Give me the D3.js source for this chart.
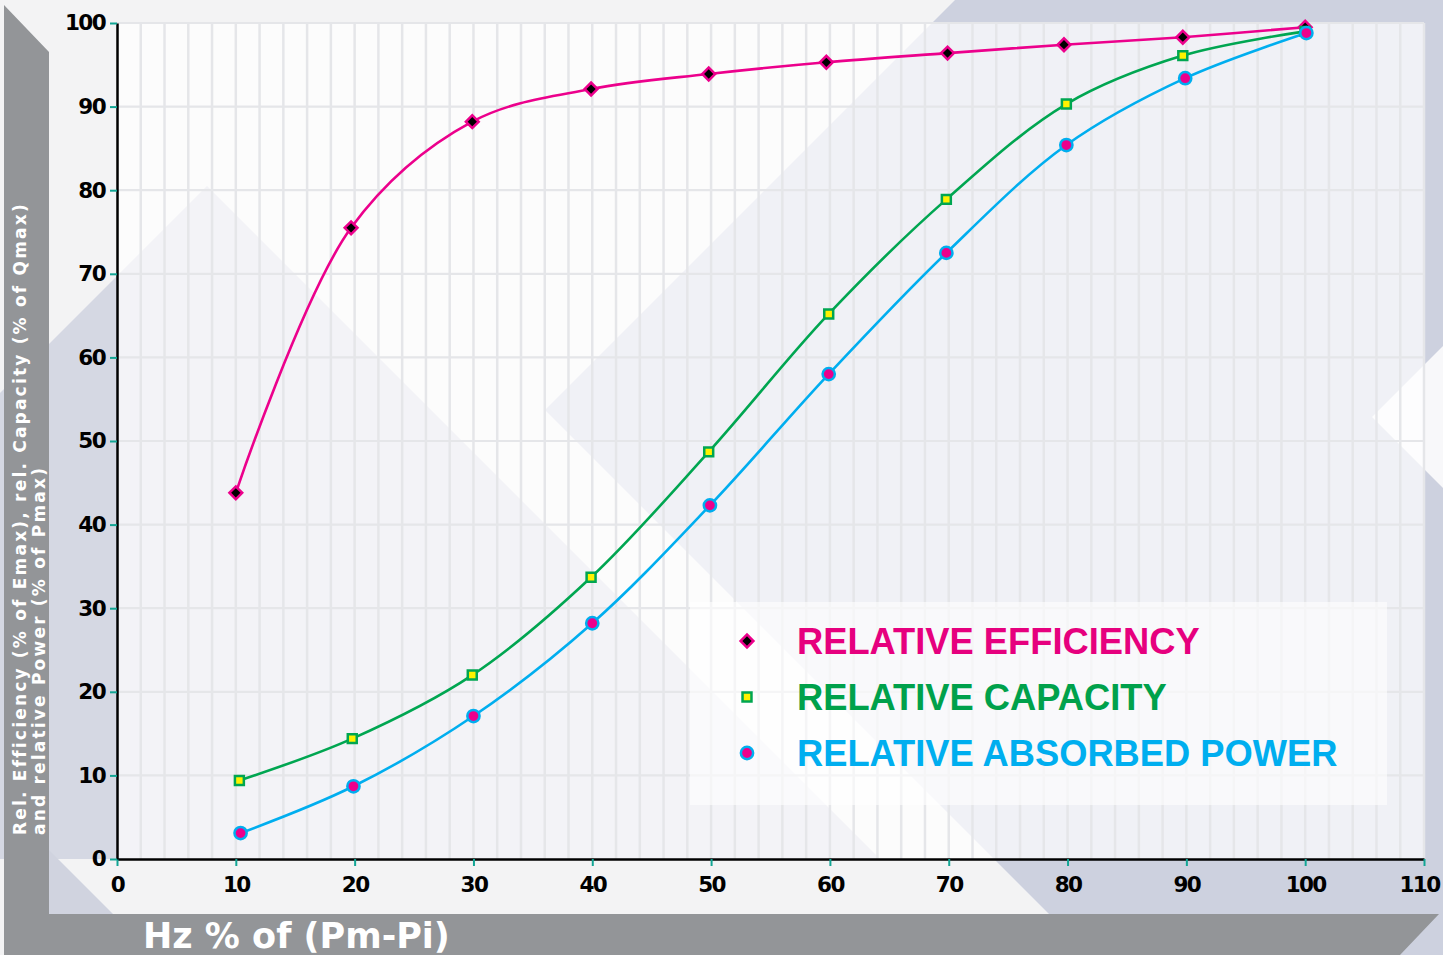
<!DOCTYPE html>
<html>
<head>
<meta charset="utf-8">
<script src="https://cdn.jsdelivr.net/npm/d3@7"></script>
<style>
body { margin: 0; background: #f3f3f4; }
svg { display: block; }
</style>
</head>
<body>
<div id="chart"></div>
<script>
// values
var hz_efficiency  = [10, 19.7, 29.9, 39.9, 49.8, 59.7, 69.9, 79.7, 89.7, 100];
var rel_efficiency = [43.8, 75.5, 88.2, 92.1, 93.9, 95.3, 96.4, 97.4, 98.3, 99.5];
var hz_capacity    = [10.3, 19.8, 29.9, 39.9, 49.8, 59.9, 69.8, 79.9, 89.7, 100];
var rel_capacity   = [9.4, 14.4, 22.0, 33.7, 48.7, 65.2, 78.9, 90.3, 96.1, 99.0];
var hz_power       = [10.4, 19.9, 30.0, 40.0, 49.9, 59.9, 69.8, 79.9, 89.9, 100.1];
var rel_power      = [3.1, 8.7, 17.1, 28.2, 42.3, 58.0, 72.5, 85.4, 93.4, 98.8];

var series_names = ["RELATIVE EFFICIENCY", "RELATIVE CAPACITY", "RELATIVE ABSORBED POWER"];
var x_ticks = [0, 10, 20, 30, 40, 50, 60, 70, 80, 90, 100, 110];
var y_ticks = [0, 10, 20, 30, 40, 50, 60, 70, 80, 90, 100];
var x_title = "Hz % of (Pm-Pi)";
var y_title = ["Rel. Efficiency (% of Emax), rel. Capacity (% of Qmax)", "and relative Power (% of Pmax)"];

var width = 1443, height = 955;
var plot_left = 117, plot_right = 1424, plot_top = 23, plot_bottom = 859;

var svg = d3.select("#chart")
	.append("svg")
	.attr("width", width)
	.attr("height", height);

// decorative backdrop shapes
var bg = svg.append("g").attr("class", "backdrop");
function poly(points, fill) {
	bg.append("polygon")
		.attr("points", points.map(function(p) { return p.join(","); }).join(" "))
		.attr("fill", fill);
}
poly([[545, 410], [955, 0], [1443, 0], [1443, 955], [1090, 955]], "#cdd1df");
poly([[207, 186], [880, 859], [0, 859], [0, 393]], "#d5d8e3");
poly([[49, 850], [113, 914], [49, 914]], "#d0d3df");
poly([[1372, 417], [1443, 346], [1443, 488]], "#f8f8fa");

var x = d3.scaleLinear().domain([0, 110]).range([plot_left, plot_right]);
var y = d3.scaleLinear().domain([0, 100]).range([plot_bottom, plot_top]);

svg.append("rect")
	.attr("x", plot_left).attr("y", plot_top - 1)
	.attr("width", plot_right - plot_left).attr("height", plot_bottom - plot_top + 1)
	.attr("fill", "#ffffff")
	.attr("fill-opacity", 0.7);

// grid
var grid = svg.append("g").attr("class", "grid");
grid.selectAll("line.v")
	.data(x.ticks(55).filter(function(d) { return d > 0; }))
	.enter().append("line")
	.attr("class", "v")
	.attr("x1", function(d) { return x(d); }).attr("x2", function(d) { return x(d); })
	.attr("y1", y(100)).attr("y2", y(0))
	.attr("stroke", "#e5e6e9")
	.attr("stroke-width", 2.5);
grid.selectAll("line.h")
	.data(y_ticks.filter(function(d) { return d > 0; }))
	.enter().append("line")
	.attr("class", "h")
	.attr("x1", x(0)).attr("x2", x(110))
	.attr("y1", function(d) { return y(d); }).attr("y2", function(d) { return y(d); })
	.attr("stroke", "#e5e6e9")
	.attr("stroke-width", 2.2);

// gray frame bars
bg = svg.append("g");
poly([[4, 5], [49, 52], [49, 914], [1439, 914], [1400, 955], [4, 955]], "#939598");

// legend box
svg.append("rect")
	.attr("x", 690).attr("y", 602)
	.attr("width", 697).attr("height", 203)
	.attr("fill", "#ffffff")
	.attr("fill-opacity", 0.6);

// axes
var tick_font = "'DejaVu Sans', sans-serif";
var xAxis = svg.append("g")
	.attr("transform", "translate(0," + plot_bottom + ")")
	.call(d3.axisBottom(x).tickValues(x_ticks).tickSize(7).tickSizeOuter(0).tickPadding(11));
var yAxis = svg.append("g")
	.attr("transform", "translate(" + plot_left + ",0)")
	.call(d3.axisLeft(y).tickValues(y_ticks).tickSize(7).tickSizeOuter(0).tickPadding(5));

[xAxis, yAxis].forEach(function(ax) {
	ax.select(".domain").attr("stroke", "#000").attr("stroke-width", 2.5);
	ax.selectAll(".tick line").attr("stroke", "#12a594").attr("stroke-width", 2);
	ax.selectAll(".tick text")
		.attr("fill", "#000")
		.style("font-family", tick_font)
		.style("font-weight", "bold")
		.style("font-size", "21.5px")
		.style("letter-spacing", "-1.6px");
});
// last label sits against the right edge, pull it in a little
xAxis.selectAll(".tick text")
	.filter(function(d) { return d === 110; })
	.attr("dx", "-5");

// series
var series = [
	{ name: series_names[0], xs: hz_efficiency, ys: rel_efficiency, line: "#ec008c", text: "#e6007e",
	  shape: d3.symbolSquare, size: 82, rotate: 45, fill: "#000000", stroke: "#ec008c" },
	{ name: series_names[1], xs: hz_capacity, ys: rel_capacity, line: "#00a651", text: "#00a14b",
	  shape: d3.symbolSquare, size: 80, rotate: 0, fill: "#fff200", stroke: "#00a651" },
	{ name: series_names[2], xs: hz_power, ys: rel_power, line: "#00aeef", text: "#00aeef",
	  shape: d3.symbolCircle, size: 118, rotate: 0, fill: "#ec008c", stroke: "#00aeef" }
];

var line = d3.line()
	.x(function(d) { return x(d[0]); })
	.y(function(d) { return y(d[1]); })
	.curve(d3.curveCatmullRom.alpha(0.5));

series.forEach(function(s) {
	var pts = s.xs.map(function(v, i) { return [v, s.ys[i]]; });
	svg.append("path")
		.attr("d", line(pts))
		.attr("fill", "none")
		.attr("stroke", s.line)
		.attr("stroke-width", 2.6);
	s.pts = pts;
});

series.forEach(function(s) {
	svg.selectAll(null)
		.data(s.pts)
		.enter().append("path")
		.attr("d", d3.symbol().type(s.shape).size(s.size))
		.attr("transform", function(d) { return "translate(" + x(d[0]) + "," + y(d[1]) + ") rotate(" + s.rotate + ")"; })
		.attr("fill", s.fill)
		.attr("stroke", s.stroke)
		.attr("stroke-width", 2.5);
});

// legend
var legend = svg.append("g").attr("transform", "translate(747,641)");
var item = legend.selectAll("g")
	.data(series)
	.enter().append("g")
	.attr("transform", function(d, i) { return "translate(0," + (i * 56) + ")"; });
item.append("path")
	.attr("d", function(d) { return d3.symbol().type(d.shape).size(d.size)(); })
	.attr("transform", function(d) { return "rotate(" + d.rotate + ")"; })
	.attr("fill", function(d) { return d.fill; })
	.attr("stroke", function(d) { return d.stroke; })
	.attr("stroke-width", 2.5);
item.append("text")
	.attr("x", 50)
	.attr("dy", "0.36em")
	.attr("fill", function(d) { return d.text; })
	.style("font-family", "'Liberation Sans', Arial, sans-serif")
	.style("font-weight", "bold")
	.style("font-size", "36.3px")
	.text(function(d) { return d.name; });

// axis titles
svg.append("text")
	.attr("x", 143).attr("y", 948)
	.attr("fill", "#ffffff")
	.style("font-family", tick_font)
	.style("font-weight", "bold")
	.style("font-size", "35px")
	.text(x_title);

var yt = svg.append("g").attr("transform", "translate(20,835) rotate(-90)");
yt.selectAll("text")
	.data(y_title)
	.enter().append("text")
	.attr("x", 0)
	.attr("y", function(d, i) { return i * 19; })
	.attr("dy", "0.36em")
	.attr("fill", "#ffffff")
	.style("font-family", tick_font)
	.style("font-weight", "bold")
	.style("font-size", "17px")
	.style("letter-spacing", "2.2px")
	.text(function(d) { return d; });
</script>
</body>
</html>
